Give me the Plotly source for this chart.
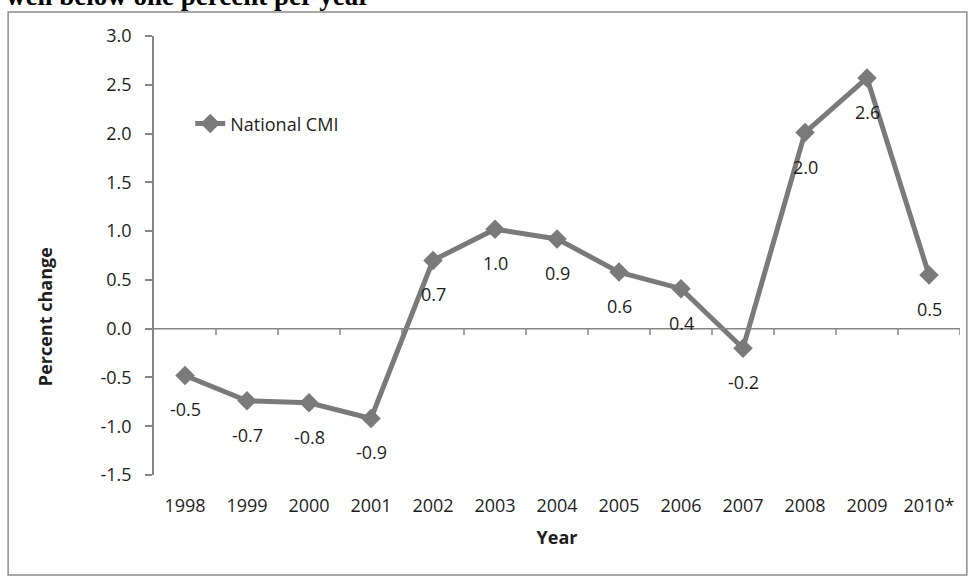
import plotly.graph_objects as go

years = ["1998", "1999", "2000", "2001", "2002", "2003", "2004", "2005", "2006", "2007", "2008", "2009", "2010*"]
cmi = [-0.48, -0.74, -0.76, -0.92, 0.70, 1.02, 0.92, 0.58, 0.41, -0.20, 2.01, 2.57, 0.55]
labels = ["-0.5", "-0.7", "-0.8", "-0.9", "0.7", "1.0", "0.9", "0.6", "0.4", "-0.2", "2.0", "2.6", "0.5"]
ytick_vals = [-1.5, -1.0, -0.5, 0.0, 0.5, 1.0, 1.5, 2.0, 2.5, 3.0]
ytick_text = ["-1.5", "-1.0", "-0.5", "0.0", "0.5", "1.0", "1.5", "2.0", "2.5", "3.0"]

FONT = "Open Sans"
GRAY = "#7a7a7a"
AX = "#868686"
TXT = "#1e1e1e"

fig = go.Figure()
fig.add_trace(go.Scatter(
    x=years, y=cmi, mode="lines+markers", name="National CMI",
    line=dict(color=GRAY, width=5),
    marker=dict(symbol="diamond", size=15, color=GRAY),
))

for i, (v, t) in enumerate(zip(cmi, labels)):
    fig.add_annotation(x=i, y=v, xref="x", yref="y", text=t, showarrow=False, yshift=-34,
                       font=dict(family=FONT, size=18, color=TXT))

# horizontal axis line at zero and boundary tick marks
fig.add_shape(type="line", xref="paper", yref="y", x0=0, x1=1, y0=0, y1=0,
              line=dict(color=AX, width=1.5))
for i in range(len(years)):
    fig.add_shape(type="line", xref="x", yref="y", x0=i + 0.5, x1=i + 0.5,
                  y0=0, y1=-0.065, line=dict(color=AX, width=1.5))

# outer chart border
fig.add_shape(type="rect", xref="paper", yref="paper",
              x0=-0.181, x1=1.0085, y0=-0.228, y1=1.0547,
              line=dict(color="#8c8c8c", width=1.5))

# cut-off title
fig.add_annotation(xref="paper", yref="paper", x=-0.186, y=1.052, xanchor="left", yanchor="bottom",
                   text="<b>well below one percent per year</b>", showarrow=False,
                   font=dict(family="Liberation Serif", size=27, color="#000"))

# y axis title (placed like the reference, below centre)
fig.add_annotation(xref="paper", yref="paper", x=-0.135, y=0.36, xanchor="center", yanchor="middle",
                   text="<b>Percent change</b>", textangle=-90, showarrow=False,
                   font=dict(family=FONT, size=18, color=TXT))

fig.update_layout(
    width=970, height=577,
    margin=dict(l=154, r=10, t=36, b=102),
    paper_bgcolor="white", plot_bgcolor="white",
    showlegend=True,
    legend=dict(x=0.045, y=0.80, xanchor="left", yanchor="middle",
                bgcolor="rgba(0,0,0,0)", font=dict(family=FONT, size=18, color=TXT)),
    xaxis=dict(type="category", range=[-0.5, 12.5], showline=False, showgrid=False,
               zeroline=False, ticks="outside", ticklen=14, tickcolor="rgba(0,0,0,0)",
               tickfont=dict(family=FONT, size=18, color=TXT),
               title=dict(text="<b>Year</b>", font=dict(family=FONT, size=18, color=TXT), standoff=15)),
    yaxis=dict(range=[-1.5, 3.0], tickvals=ytick_vals, ticktext=ytick_text,
               showline=True, linecolor=AX, linewidth=1.5, showgrid=False, zeroline=False,
               ticks="outside", ticklen=7, tickcolor=AX, tickwidth=1.5, ticklabelstandoff=10,
               tickfont=dict(family=FONT, size=18, color=TXT)),
)

fig.write_html("out.html", config={"displayModeBar": False},
               post_script="document.body.style.margin='0px';")
